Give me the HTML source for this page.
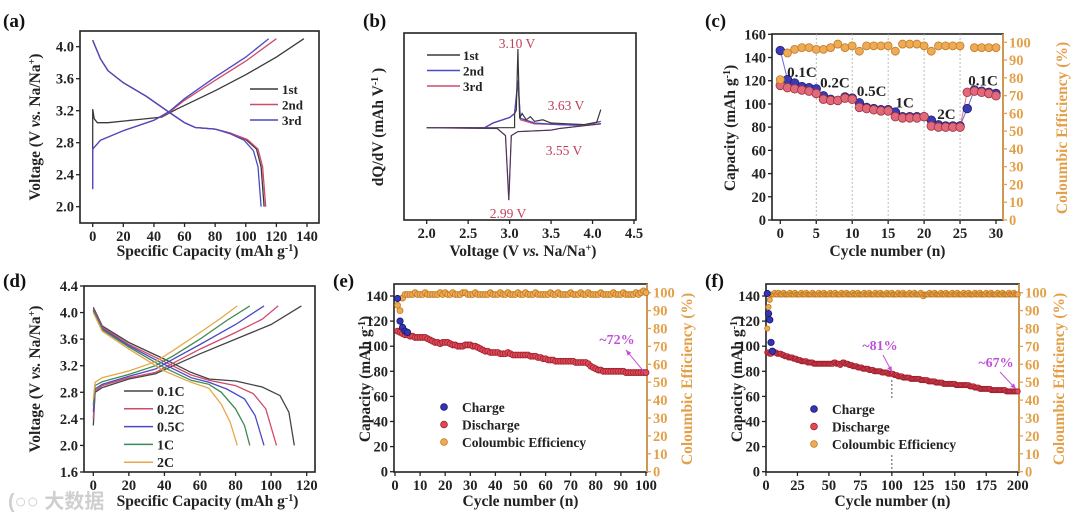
<!DOCTYPE html>
<html><head><meta charset="utf-8"><style>
html,body{margin:0;padding:0;background:#fff;}
svg{display:block;font-family:"Liberation Serif","Noto Serif CJK SC",serif;font-weight:bold;}
</style></head><body>
<svg id="fig" width="1080" height="519" viewBox="0 0 1080 519" xmlns="http://www.w3.org/2000/svg">
<rect width="1080" height="519" fill="#fff"/>
</svg>
<script>
// ---------- DATA ----------
// panel a
const aCharge1=[[0,2.65],[0,3.22],[1,3.1],[3,3.05],[10,3.05],[30,3.09],[45,3.12],[55,3.22],[80,3.45],[100,3.65],[120,3.87],[138,4.1]];
const aCharge2=[[0,2.22],[0,2.72],[5,2.83],[20,2.95],[40,3.08],[50,3.18],[60,3.33],[80,3.58],[100,3.82],[120,4.1]];
const aCharge3=[[0,2.22],[0,2.72],[5,2.83],[20,2.95],[40,3.08],[50,3.19],[60,3.35],[80,3.62],[100,3.87],[115,4.1]];
const aDis1=[[0,4.08],[5,3.85],[10,3.7],[20,3.55],[35,3.38],[50,3.18],[60,3.05],[67,2.99],[80,2.97],[90,2.92],[100,2.84],[107,2.72],[110,2.5],[112,2.0]];
const aDis2=[[0,4.08],[5,3.85],[10,3.7],[20,3.55],[35,3.38],[50,3.18],[60,3.05],[67,2.99],[80,2.97],[90,2.92],[101,2.84],[108,2.72],[111,2.5],[113,2.0]];
const aDis3=[[0,4.08],[5,3.85],[10,3.7],[20,3.55],[35,3.38],[50,3.18],[60,3.05],[67,2.99],[80,2.97],[90,2.91],[99,2.83],[105,2.7],[108,2.5],[110,2.0]];
const aXTicks=[0,20,40,60,80,100,120,140];
const aYTicks=[2.0,2.4,2.8,3.2,3.6,4.0];
// panel b
const bCharge1=[[2.0,0],[2.7,0],[3.06,0],[3.06,0.18],[3.08,0.22],[3.1,1.0],[3.12,0.12],[3.15,0.18],[3.2,0.1],[3.25,0.14],[3.3,0.08],[3.4,0.1],[3.5,0.06],[3.7,0.05],[3.9,0.04],[4.05,0.07],[4.1,0.23]];
const bCharge2=[[2.0,0],[2.7,0],[2.8,0.06],[3.0,0.13],[3.06,0.18],[3.1,0.6],[3.13,0.12],[3.3,0.06],[3.6,0.04],[3.9,0.03],[4.1,0.08]];
const bCharge3=[[2.0,0],[2.7,0],[2.8,0.06],[3.0,0.13],[3.06,0.18],[3.1,0.58],[3.13,0.1],[3.3,0.05],[3.6,0.04],[3.9,0.03],[4.1,0.05]];
const bDis=[[2.0,0],[2.85,-0.01],[2.95,-0.1],[2.99,-0.92],[3.02,-0.1],[3.1,-0.05],[3.5,-0.03],[3.6,-0.01],[4.1,0.05]];
const bXTicks=[2.0,2.5,3.0,3.5,4.0,4.5];
// panel c
const cCharge=[146,121,118,115,114,113,107,104,103,106,105,101,97,96,95,95,93,89,89,89,89,86,82,81,81,81,96,112,111,110,109];
const cDischarge=[116,114,113,112,111,109,104,103,103,105,104,97,96,95,94,94,89,88,88,88,89,81,80,80,80,80,110,111,110,109,107];
const cCE=[79,94,96,97,97,96,96,97,99,97,98,95,98,98,98,98,95,99,99,99,98,95,98,98,98,98,null,97,97,97,97];
const cXTicks=[0,5,10,15,20,25,30];
const cYTicks=[0,20,40,60,80,100,120,140,160];
const ceTicks=[0,10,20,30,40,50,60,70,80,90,100];
const cRateLabels=["0.1C","0.2C","0.5C","1C","2C","0.1C"];
const cRatePos=[[3,123],[7.6,114],[12.7,107],[17.3,97],[23.1,87],[28.2,116]];
// panel d
const dCharge=[
 [[0,2.3],[1,2.8],[5,2.87],[20,3.0],[35,3.08],[45,3.2],[60,3.38],[80,3.6],[100,3.82],[117,4.1]],
 [[0,2.4],[1,2.82],[5,2.9],[20,3.02],[35,3.1],[45,3.24],[60,3.45],[80,3.7],[95,3.9],[104,4.1]],
 [[0,2.5],[1,2.85],[5,2.92],[20,3.04],[35,3.15],[45,3.3],[60,3.52],[80,3.82],[96,4.1]],
 [[0,2.6],[1,2.9],[5,2.96],[20,3.07],[35,3.2],[45,3.35],[60,3.6],[75,3.88],[88,4.1]],
 [[0,2.7],[1,2.95],[5,3.02],[20,3.12],[35,3.26],[45,3.43],[60,3.7],[72,3.92],[81,4.1]]];
const dDis=[
 [[0,4.08],[5,3.8],[20,3.55],[40,3.3],[55,3.1],[65,3.0],[80,2.97],[95,2.88],[105,2.75],[110,2.5],[113,2.0]],
 [[0,4.06],[5,3.78],[20,3.52],[40,3.26],[55,3.06],[65,2.98],[80,2.9],[90,2.78],[97,2.55],[103,2.0]],
 [[0,4.04],[5,3.76],[20,3.5],[40,3.22],[55,3.02],[65,2.95],[75,2.85],[85,2.7],[91,2.45],[96,2.0]],
 [[0,4.02],[5,3.74],[20,3.48],[40,3.17],[55,2.98],[65,2.92],[72,2.8],[80,2.55],[85,2.3],[88,2.0]],
 [[0,4.0],[5,3.72],[20,3.45],[40,3.12],[55,2.95],[65,2.86],[72,2.62],[77,2.35],[81,2.0]]];
const dRates=["0.1C","0.2C","0.5C","1C","2C"];
const dColors=["#444","#d24a6a","#4a4ac4","#3d8a55","#e5a848"];
const dXTicks=[0,20,40,60,80,100,120];
const dYTicks=[1.6,2.0,2.4,2.8,3.2,3.6,4.0,4.4];
// panel e
const eCharge=[138,120,115,112,111];
const eDischarge=[112,111,110,109,109,108,108,107,107,107,107,107,106,105,104,103,103,102,103,103,103,102,101,101,100,100,100,101,101,101,100,100,99,98,97,96,96,95,95,95,95,94,94,94,95,94,93,93,93,93,93,93,93,92,92,92,91,91,90,90,89,89,89,88,88,88,88,88,88,88,88,87,87,87,87,87,86,84,83,82,81,81,80,80,80,80,80,80,80,80,80,79,79,79,79,79,79,79,79,79];
const eCE=[93,90,97,99,99,99,99,100,99,99,99,100,99,99,99,99,99,100,99,100,99,99,100,99,99,99,100,100,99,99,99,100,99,99,99,99,99,100,99,99,99,100,99,99,100,99,99,99,100,99,99,100,99,99,99,100,99,99,99,99,99,100,99,99,100,99,99,99,99,100,99,99,99,100,99,99,100,99,99,99,99,100,99,99,99,99,100,99,99,99,100,99,99,99,99,100,99,100,101,100];
const eXTicks=[0,10,20,30,40,50,60,70,80,90,100];
const capTicks=[0,20,40,60,80,100,120,140];
// panel f
const fCharge=[142,126,121,103,96];
const fDischarge=[95,95,94,94,96,96,95,95,94,94,94,94,93,93,92,92,92,91,91,91,91,90,90,90,89,89,89,88,88,88,88,88,87,87,87,87,87,86,86,86,86,86,86,86,86,86,86,86,86,86,86,86,86,87,87,86,86,86,85,86,87,87,86,86,86,85,85,85,84,84,84,84,83,83,83,83,82,82,82,82,82,81,81,81,81,80,80,80,80,80,80,79,79,79,79,79,78,78,78,78,78,77,77,77,76,76,76,76,75,75,75,75,75,75,74,74,74,74,74,74,74,74,73,73,73,73,73,73,72,72,72,72,72,72,71,71,71,71,71,71,70,70,70,70,70,70,70,70,70,70,69,69,69,69,69,69,69,69,69,69,69,68,68,68,68,67,67,67,67,66,66,66,66,66,66,66,66,66,65,65,65,65,65,65,65,65,65,65,65,65,64,64,64,64,64,64,64,64,64,64];
const fCE=[80,92,96,99,99,99,100,99,99,100,99,99,99,100,99,99,99,99,100,99,99,99,100,99,99,99,99,100,99,99,99,100,99,99,99,99,100,99,99,99,99,100,99,99,99,100,99,99,99,99,100,99,99,99,100,99,99,99,99,100,99,99,99,100,99,99,99,99,100,99,99,99,100,99,99,99,99,100,99,99,99,100,99,99,99,99,100,99,99,99,100,99,99,99,99,100,99,99,99,100,99,99,99,99,100,99,99,99,100,99,99,99,99,100,99,99,99,100,99,99,99,99,100,99,98,99,99,99,99,100,99,99,99,100,99,99,99,99,100,99,99,99,100,99,99,99,99,100,99,99,99,100,99,99,99,99,100,99,99,99,100,99,99,99,99,100,99,99,99,100,99,99,99,99,100,99,99,99,100,99,99,99,99,100,99,99,99,100,99,99,99,99,100,99,99,99,100,99,99,99];
const fXTicks=[0,25,50,75,100,125,150,175,200];

// ---------- HELPERS ----------
const NS="http://www.w3.org/2000/svg";
const svg=document.getElementById('fig');
function el(tag,attrs,parent){const e=document.createElementNS(NS,tag);for(const k in attrs)e.setAttribute(k,attrs[k]);(parent||svg).appendChild(e);return e;}
function sc(d0,d1,p0,p1){return v=>p0+(v-d0)*(p1-p0)/(d1-d0);}
function txt(x,y,s,size,opts,parent){const t=el('text',Object.assign({x:x,y:y,'font-size':size},opts||{}),parent);t.textContent=s;return t;}
function linePath(pts,xs,ys){return pts.map((p,i)=>(i?'L':'M')+xs(p[0]).toFixed(1)+','+ys(p[1]).toFixed(1)).join('');}
function frame(name,l,t,r,b){const g=el('g',{});
 const f=el('rect',{x:l,y:t,width:r-l,height:b-t,fill:'none',stroke:'#222','stroke-width':1.6},g);
 return g;}
function xAxis(g,ticks,xs,b,fmt,size){ticks.forEach(v=>{const x=xs(v);el('line',{x1:x,y1:b,x2:x,y2:b+4,stroke:'#222','stroke-width':1.3},g);
 const t=txt(x,b+18,fmt(v),size||14.5,{'text-anchor':'middle',fill:'#222'},g);});}
function yAxis(g,ticks,ys,l,fmt,size,color){ticks.forEach(v=>{const y=ys(v);el('line',{x1:l-4,y1:y,x2:l,y2:y,stroke:color||'#222','stroke-width':1.3},g);
 const t=txt(l-6,y+5,fmt(v),size||14.5,{'text-anchor':'end',fill:color||'#222'},g);});}
function yRight(g,ticks,ys,r,color){ticks.forEach(v=>{const y=ys(v);el('line',{x1:r,y1:y,x2:r+4,y2:y,stroke:color,'stroke-width':1.3},g);
 const t=txt(r+6,y+5,String(v),14.5,{'text-anchor':'start',fill:color},g);});}
function xTitle(g,x,y,html){const t=el('text',{x:x,y:y,'font-size':15.5,'text-anchor':'middle',fill:'#222'},g);t.innerHTML=html;return t;}
function yTitle(g,x,y,html,color,size){const t=el('text',{x:0,y:0,'font-size':size||15.5,'text-anchor':'middle',fill:color||'#222',transform:`translate(${x},${y}) rotate(-90)`},g);t.innerHTML=html;return t;}
function panelLabel(x,y,s){const t=txt(x,y,s,19,{fill:'#111'});}
function dot(g,x,y,r,fill,stroke){const c=el('circle',{cx:x,cy:y,r:r,fill:fill,stroke:stroke,'stroke-width':0.8},g);return c;}
const sup=s=>`<tspan baseline-shift="super" font-size="10">${s}</tspan>`;

// ---------- PANEL A ----------
panelLabel(3,27,'(a)');
{const L=80,T=31,R=319,B=223;const xs=sc(0,140,92.7,307),ys=sc(2,4,206.7,46.7);
 const g=frame('panel-a',L,T,R,B);
 xAxis(g,aXTicks,xs,B,v=>String(v));yAxis(g,aYTicks,ys,L,v=>v.toFixed(1));
 xTitle(g,(L+R)/2+8,256,'Specific Capacity (mAh g'+sup('-1')+')');
 yTitle(g,40,127,'Voltage (V <tspan font-style="italic">vs.</tspan> Na/Na'+sup('+')+')');
 const cols=['#3a3a3a','#d24a6a','#4a4ac4'];const names=['1st','2nd','3rd'];
 [[aCharge1,aDis1],[aCharge2,aDis2],[aCharge3,aDis3]].forEach((pair,i)=>{pair.forEach((d,j)=>{const p=el('path',{d:linePath(d,xs,ys),fill:'none',stroke:cols[i],'stroke-width':1.3},g);
  });
  const ly=89+i*15.5;el('line',{x1:250,y1:ly,x2:278,y2:ly,stroke:cols[i],'stroke-width':1.5},g);
  const t=txt(282,ly+5,names[i],13,{fill:'#222'},g);});
}
// ---------- PANEL B ----------
panelLabel(363,27,'(b)');
{const L=404,T=33,R=636,B=220;const xs=sc(2,4.5,426.7,634),ys=sc(0,1,127.7,49);
 const g=frame('panel-b',L,T,R,B);
 xAxis(g,bXTicks,xs,B,v=>v.toFixed(1));
 xTitle(g,(L+R)/2+3,256,'Voltage (V <tspan font-style="italic">vs.</tspan> Na/Na'+sup('+')+')');
 yTitle(g,383,127,'dQ/dV (mAh V'+sup('-1')+' )');
 const cols=['#3a3a3a','#4a4ac4','#d24a6a'];const names=['1st','2nd','3rd'];
 [bCharge3,bCharge2].forEach((d,i)=>{const p=el('path',{d:linePath(d,xs,ys),fill:'none',stroke:i?cols[1]:cols[2],'stroke-width':1.3},g);});
 const p1=el('path',{d:linePath(bCharge1,xs,ys),fill:'none',stroke:cols[0],'stroke-width':1.2},g);
 ['#d24a6a','#4a4ac4','#3a3a3a'].forEach((c,i)=>{const p=el('path',{d:linePath(bDis,xs,ys),fill:'none',stroke:c,'stroke-width':1.3-i*0.3},g);});
 names.forEach((n,i)=>{const ly=55+i*15.5;el('line',{x1:427,y1:ly,x2:460,y2:ly,stroke:cols[i],'stroke-width':1.5},g);
  const t=txt(463,ly+5,n,13,{fill:'#222'},g);});
 [['3.10 V',517,48],['3.63 V',566,110],['3.55 V',564,155],['2.99 V',508,218]].forEach(a=>{const t=txt(a[1],a[2],a[0],13.5,{'text-anchor':'middle',fill:'#c0405a','font-weight':'normal'},g);});
}
// ---------- PANEL C ----------
panelLabel(705,27,'(c)');
{const L=772,T=34,R=1003,B=220;const xs=sc(0,30,780.3,996),ys=sc(0,160,220,34.3),yr=sc(0,100,220,42.3);
 const g=frame('panel-c',L,T,R,B);const OR='#e3a04a';
 [5,10,15,20,25].forEach(v=>{el('line',{x1:xs(v),y1:T,x2:xs(v),y2:B,stroke:'#aaa','stroke-width':0.8,'stroke-dasharray':'2,2'},g);});
 xAxis(g,cXTicks,xs,B,v=>String(v));yAxis(g,cYTicks,ys,L,v=>String(v));yRight(g,ceTicks,yr,R,OR);
 el('line',{x1:R,y1:T,x2:R,y2:B,stroke:OR,'stroke-width':1.6},g);
 xTitle(g,(L+R)/2,256,'Cycle number (n)');
 yTitle(g,735,128,'Capacity (mAh g'+sup('-1')+')');
 yTitle(g,1067,128,'Coloumbic Efficiency (%)',OR);
 el('path',{d:linePath(cCharge.map((v,i)=>[i,v]),xs,ys),fill:'none',stroke:'#6a6ad0','stroke-width':1},g);
 el('path',{d:linePath(cDischarge.map((v,i)=>[i,v]),xs,ys),fill:'none',stroke:'#e07080','stroke-width':1},g);
 cCharge.forEach((v,i)=>{const c=dot(g,xs(i),ys(v),4.3,'#3a3ab8','#20206a');});
 cDischarge.forEach((v,i)=>{const c=dot(g,xs(i),ys(v),4.3,'#e06a7a','#a03040');});
 cCE.forEach((v,i)=>{if(v===null)return;const c=dot(g,xs(i),yr(v),4,'#eeaa55','#c07a20');});
 cRateLabels.forEach((s,i)=>{const t=txt(xs(cRatePos[i][0]),ys(cRatePos[i][1]),s,15,{'text-anchor':'middle',fill:'#222'},g);});
}
// ---------- PANEL D ----------
panelLabel(3,287,'(d)');
{const L=84,T=286,R=315,B=472;const xs=sc(0,120,93.3,306.7),ys=sc(1.6,4.4,472,286);
 const g=frame('panel-d',L,T,R,B);
 xAxis(g,dXTicks,xs,B,v=>String(v));yAxis(g,dYTicks,ys,L,v=>v.toFixed(1));
 xTitle(g,(L+R)/2+8,506,'Specific Capacity (mAh g'+sup('-1')+')');
 yTitle(g,40,379,'Voltage (V <tspan font-style="italic">vs.</tspan> Na/Na'+sup('+')+')');
 dRates.forEach((r,i)=>{[dCharge[i],dDis[i]].forEach((d,j)=>{const p=el('path',{d:linePath(d,xs,ys),fill:'none',stroke:dColors[i],'stroke-width':1.3},g);
  });
  const ly=391+i*17.8;el('line',{x1:124,y1:ly,x2:153,y2:ly,stroke:dColors[i],'stroke-width':1.5},g);
  const t=txt(157,ly+5,r,14,{fill:'#222'},g);});
 const w=txt(8,508,'(○○ 大数据',20,{fill:'#bbb','fill-opacity':0.7,'font-family':'"Liberation Sans","Noto Sans CJK SC",sans-serif'});
}
// ---------- PANELS E & F ----------
function cyclePanel(id,L,R,x0px,x1px,xmax,xticks,chg,dis,ce,ytitleX){
 const T=284,B=472,OR='#e3a04a';const xs=sc(0,xmax,x0px,x1px),ys=sc(0,140,471.7,296),yr=sc(0,100,471.7,292.7);
 const g=frame(id,L,T,R,B);
 xAxis(g,xticks,xs,B,v=>String(v));yAxis(g,capTicks,ys,L,v=>String(v));yRight(g,ceTicks,yr,R,OR);
 el('line',{x1:R,y1:T,x2:R,y2:B,stroke:OR,'stroke-width':1.6},g);
 xTitle(g,(L+R)/2,506,'Cycle number (n)');
 yTitle(g,ytitleX,379,'Capacity (mAh g'+sup('-1')+')');
 yTitle(g,R+45,379,'Coloumbic Efficiency (%)',OR);
 const r=xmax>150?2.6:3;
 ce.forEach((v,i)=>{const c=dot(g,xs(i+1),yr(v),r,'#eeaa55','#c07a20');});
 dis.forEach((v,i)=>{const c=dot(g,xs(i+1),ys(v),r,'#e04a55','#a02030');});
 chg.forEach((v,i)=>{const c=dot(g,xs(i+1),ys(v),3.2,'#3434b8','#1a1a60');});
 return {g,xs,ys};
}
function legend3(g,mx,ty){const items=[['Charge','#3434b8','#1a1a60'],['Discharge','#e04a55','#a02030'],['Coloumbic Efficiency','#eeaa55','#c07a20']];
 items.forEach((it,i)=>{const y=ty+i*17.5;dot(g,mx,y,3.4,it[1],it[2]);const t=txt(mx+18,y+5,it[0],13.5,{fill:'#222'},g);});}
function annot(g,s,tx,ty,x1,y1,x2,y2){const t=txt(tx,ty,s,14,{'text-anchor':'middle',fill:'#c050d8'},g);
 el('line',{x1:x1,y1:y1,x2:x2,y2:y2,stroke:'#c050d8','stroke-width':1},g);
 const a=Math.atan2(y2-y1,x2-x1);el('path',{d:`M${x2},${y2}L${x2-6*Math.cos(a-0.4)},${y2-6*Math.sin(a-0.4)}L${x2-6*Math.cos(a+0.4)},${y2-6*Math.sin(a+0.4)}Z`,fill:'#c050d8'},g);}
panelLabel(333,287,'(e)');
{const P=cyclePanel('panel-e',394,647,395,646,100,eXTicks,eCharge,eDischarge,eCE,370);
 legend3(P.g,444,407);annot(P.g,'~72%',617,344,645,373,626,350);}
panelLabel(705,287,'(f)');
{const P=cyclePanel('panel-f',766,1019,766,1017.7,200,fXTicks,fCharge,fDischarge,fCE,742);
 legend3(P.g,814,409);
 el('line',{x1:P.xs(100),y1:380,x2:P.xs(100),y2:400,stroke:'#555','stroke-width':1,'stroke-dasharray':'2,2'},P.g);
 el('line',{x1:P.xs(100),y1:455,x2:P.xs(100),y2:471,stroke:'#555','stroke-width':1,'stroke-dasharray':'2,2'},P.g);
 annot(P.g,'~81%',880,350,883,355,892,372);annot(P.g,'~67%',996,367,1000,372,1016,389);}
</script>
</body></html>
